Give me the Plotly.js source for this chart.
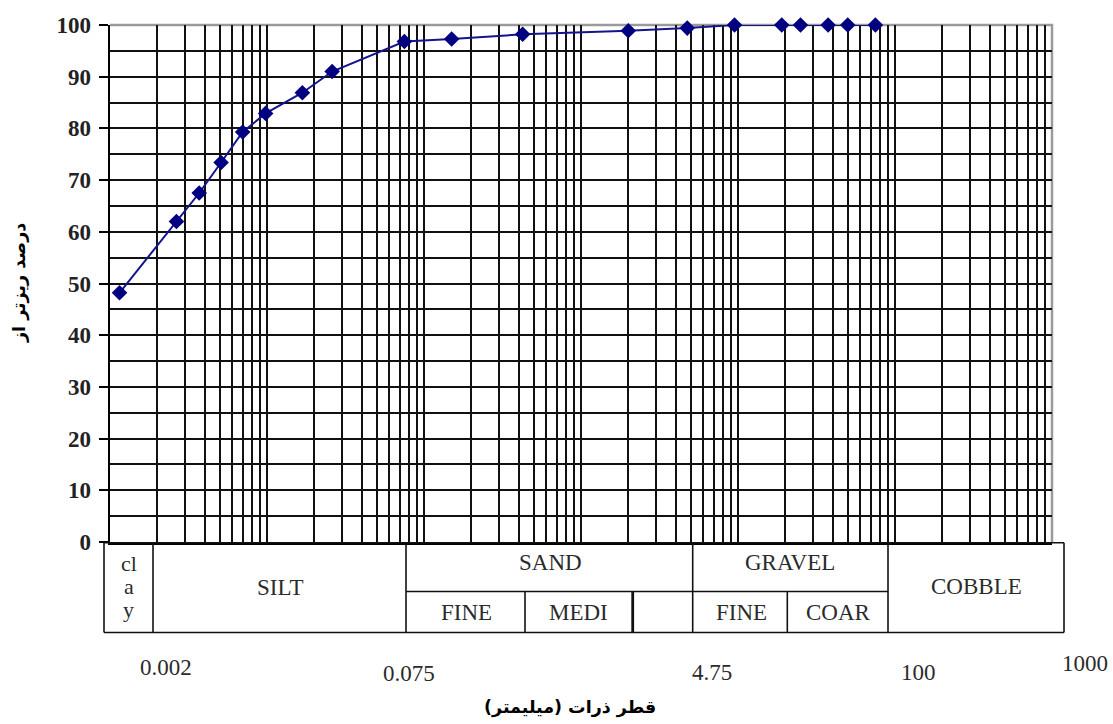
<!DOCTYPE html>
<html>
<head>
<meta charset="utf-8">
<script src="https://cdn.plot.ly/plotly-3.0.1.min.js"></script>
<style>
  html, body { margin: 0; padding: 0; background: #fff; }
  #chart { width: 1113px; height: 724px; }
</style>
</head>
<body>
<div id="chart"></div>
<script>
// Grain size distribution (hydrometer + sieve analysis)
const diameterMm = [0.00115, 0.00265, 0.0037, 0.0051, 0.007, 0.0098, 0.0168, 0.026,
                    0.075, 0.15, 0.425, 2.0, 4.75, 9.5, 19, 25, 37.5, 50, 75];
const percentFiner = [48.2, 62.0, 67.5, 73.4, 79.3, 82.9, 86.9, 91.0,
                      96.8, 97.3, 98.2, 98.9, 99.4, 100, 100, 100, 100, 100, 100];

// Boundary sizes printed under the classification table
const sizeLabels = ['0.002', '0.075', '4.75', '100', '1000'];

// Soil classes in the table below the plot
const mainClasses = ['SILT', 'SAND', 'GRAVEL', 'COBBLE'];
const clayLetters = ['cl', 'a', 'y'];
const subClasses = ['FINE', 'MEDI', 'FINE', 'COAR'];

const yTitle = 'درصد ریزتر از';
const xTitle = 'قطر ذرات (میلیمتر)';

// Plot-area geometry (pixels) used to place the table under the axis
const W = 1113, H = 724;
const M = { l: 110, r: 61, t: 25, b: 182 };
const plotW = W - M.l - M.r, plotH = H - M.t - M.b;
const px = X => (X - M.l) / plotW;
const py = Y => (H - M.b - Y) / plotH;

const serif = 'Liberation Serif, Times New Roman, serif';
const textCol = '#2b2b2b';
const gridW = 2;

const shapes = [];
const line = (x0, y0, x1, y1, w) => shapes.push({
  type: 'line', xref: 'paper', yref: 'paper',
  x0: px(x0), y0: py(y0), x1: px(x1), y1: py(y1),
  line: { color: '#111', width: w || 1.6 }
});

// top and right frame of the plot (grey)
shapes.push({ type: 'line', xref: 'paper', yref: 'paper', x0: 0, x1: px(1053), y0: 1, y1: 1,
  line: { color: '#9a9a9a', width: 2.5 }, layer: 'between' });
shapes.push({ type: 'line', xref: 'paper', yref: 'paper', x0: 1, x1: 1, y0: 0, y1: py(24),
  line: { color: '#9a9a9a', width: 2.5 }, layer: 'between' });

// classification table
const tTop = 542.7, tMid = 591.5, tBot = 632.5;
line(104, tTop, 1064, tTop);
line(104, tBot, 1064, tBot);
line(104, tTop, 104, tBot);
line(1064, tTop, 1064, tBot);
[153, 406, 692.7, 888].forEach(X => line(X, tTop, X, tBot));
line(406, tMid, 888, tMid);
line(525, tMid, 525, tBot);
line(632.7, tMid, 632.7, tBot, 2.8);
line(787.3, tMid, 787.3, tBot);

const annotations = [];
const txt = (t, X, Y, size) => annotations.push({
  text: t, xref: 'paper', yref: 'paper', x: px(X), y: py(Y),
  xanchor: 'center', yanchor: 'middle', showarrow: false,
  font: { family: serif, size: size || 23, color: textCol }
});

// clay column, one letter group per line
[563, 586, 609].forEach((Y, i) => txt(clayLetters[i], 128.5, Y, 22));
txt(mainClasses[0], 280, 587);
txt(mainClasses[1], 550, 562);
txt(mainClasses[2], 790, 562);
txt(mainClasses[3], 976, 586);
txt(subClasses[0], 466, 612);
txt(subClasses[1], 578, 612);
txt(subClasses[2], 741, 612);
txt(subClasses[3], 838, 612);

// size labels placed on the log axis with a small offset
const labelShift = [9, 5, 25, 23, 33];
const labelY = [667, 673, 672, 672, 663];
sizeLabels.forEach((s, i) => annotations.push({
  text: s, xref: 'x', yref: 'paper', x: Math.log10(parseFloat(s)), y: py(labelY[i]),
  xshift: labelShift[i], xanchor: 'center', yanchor: 'middle', showarrow: false,
  font: { family: serif, size: 23, color: textCol }
}));

// axis titles (Persian, bold)
annotations.push({
  text: '\u200F' + xTitle + '\u200F', xref: 'paper', yref: 'paper',
  x: px(570), y: py(707), xanchor: 'center', yanchor: 'middle', showarrow: false,
  font: { family: 'DejaVu Sans, sans-serif', size: 17.5, color: '#000', weight: 'bold' }
});
annotations.push({
  text: '\u200F' + yTitle + '\u200F', xref: 'paper', yref: 'paper', textangle: -90,
  x: px(19), y: py(283), xanchor: 'center', yanchor: 'middle', showarrow: false,
  font: { family: 'DejaVu Sans, sans-serif', size: 17.5, color: '#000', weight: 'bold' }
});

const trace = {
  x: diameterMm, y: percentFiner, type: 'scatter', mode: 'lines+markers',
  line: { color: '#14148e', width: 2 },
  marker: { symbol: 'diamond', size: 12, color: '#000080' },
  cliponaxis: false, hoverinfo: 'x+y'
};

const layout = {
  width: W, height: H, margin: M,
  paper_bgcolor: '#fff', plot_bgcolor: '#fff',
  showlegend: false,
  xaxis: {
    type: 'log', range: [-3, 3], dtick: 'D1',
    showgrid: true, gridcolor: '#111', gridwidth: gridW,
    showticklabels: false, ticks: '',
    showline: true, linecolor: '#000', linewidth: 3, zeroline: false, fixedrange: true
  },
  yaxis: {
    range: [0, 100], dtick: 10, tick0: 0,
    showgrid: true, gridcolor: '#111', gridwidth: gridW,
    ticks: 'outside', ticklen: 9, tickwidth: 2, tickcolor: '#000',
    ticklabelstandoff: 3,
    tickfont: { family: serif, size: 23, color: '#222', weight: 'bold' },
    minor: { dtick: 5, showgrid: true, gridcolor: '#111', gridwidth: gridW, ticks: '' },
    showline: true, linecolor: '#000', linewidth: 2.5, zeroline: false, fixedrange: true
  },
  shapes: shapes,
  annotations: annotations
};

Plotly.newPlot('chart', [trace], layout, { displayModeBar: false, staticPlot: true });
</script>
</body>
</html>
